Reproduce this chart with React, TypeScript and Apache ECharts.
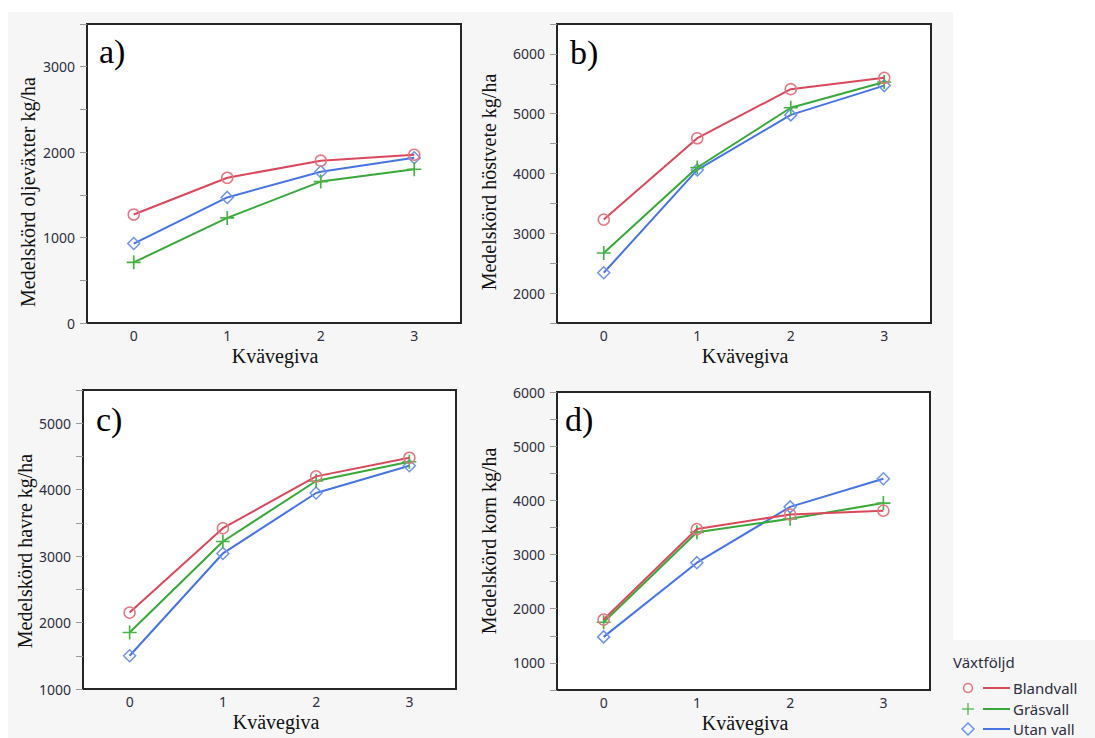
import React, { useEffect, useRef } from "react";
import * as echarts from "echarts";

const categories = ["0", "1", "2", "3"];
const seriesNames = ["Blandvall", "Gräsvall", "Utan vall"];

// a) oljeväxter
const blandA = [1270, 1700, 1900, 1970];
const grasA = [710, 1230, 1655, 1800];
const utanA = [930, 1470, 1770, 1935];
// b) höstvete
const blandB = [3230, 4590, 5410, 5600];
const grasB = [2670, 4100, 5100, 5530];
const utanB = [2340, 4060, 4980, 5470];
// c) havre
const blandC = [2150, 3420, 4200, 4480];
const grasC = [1850, 3220, 4130, 4420];
const utanC = [1500, 3040, 3950, 4360];
// d) korn
const blandD = [1800, 3470, 3740, 3810];
const grasD = [1750, 3410, 3660, 3950];
const utanD = [1480, 2850, 3880, 4400];

const yMins = [0, 1500, 1000, 500];
const yMaxs = [3500, 6500, 5500, 6000];
const yTitles = [
  "Medelskörd oljeväxter kg/ha",
  "Medelskörd höstvete kg/ha",
  "Medelskörd havre kg/ha",
  "Medelskörd korn kg/ha",
];
const panelLetters = ["a)", "b)", "c)", "d)"];
const xTitle = "Kvävegiva";
const legendTitle = "Växtföljd";

const panelData = [
  [blandA, grasA, utanA],
  [blandB, grasB, utanB],
  [blandC, grasC, utanC],
  [blandD, grasD, utanD],
];

const lineColors = ["#d9495b", "#38a838", "#4674e2"];
const markerColors = ["#e27883", "#45b445", "#6f92ee"];
const PLUS = "path://M4.4,0H5.6V4.4H10V5.6H5.6V10H4.4V5.6H0V4.4H4.4Z";
const symbols = ["circle", PLUS, "diamond"];
const symbolSizes = [11, 14, 12];

const grids = [
  { left: 87, top: 24, width: 374, height: 299 },
  { left: 557, top: 24, width: 374, height: 299 },
  { left: 83, top: 390, width: 373, height: 299 },
  { left: 557, top: 392, width: 373, height: 298 },
];

const yTitlePos = [
  [28, 192],
  [489, 182],
  [25, 551],
  [489, 541],
];
const xTitlePos = [
  [275, 356],
  [745, 356],
  [276, 722],
  [745, 723],
];
const letterPos = [
  [99, 51],
  [570, 52],
  [96, 419],
  [565, 419],
];

export default function App() {
  const ref = useRef<HTMLDivElement>(null);
  useEffect(() => {
    if (!ref.current) return;
    const chart = echarts.init(ref.current, null, { renderer: "svg" });

    const labelStyle = {
      fontFamily: "Noto Sans",
      fontSize: 14,
      color: "#2e2e3e",
    };

    const series: any[] = [];
    panelData.forEach((p, gi) => {
      p.forEach((vals, si) => {
        series.push({
          type: "line",
          name: seriesNames[si],
          xAxisIndex: gi,
          yAxisIndex: gi,
          data: vals,
          symbol: symbols[si],
          symbolSize: symbolSizes[si],
          showSymbol: true,
          lineStyle: { color: lineColors[si], width: 2 },
          itemStyle:
            si === 1
              ? { color: markerColors[si], borderWidth: 0 }
              : { color: "transparent", borderColor: markerColors[si], borderWidth: 1.5 },
          color: lineColors[si],
          emphasis: { disabled: true },
          z: 3 - si,
        });
      });
    });

    const graphics: any[] = [
      {
        type: "rect",
        z: -10,
        silent: true,
        shape: { x: 8, y: 12, width: 945, height: 726 },
        style: { fill: "#f6f6f6" },
      },
      {
        type: "rect",
        z: -10,
        silent: true,
        shape: { x: 953, y: 640, width: 142, height: 98 },
        style: { fill: "#f6f6f6" },
      },
    ];

    yTitles.forEach((t, i) => {
      graphics.push({
        type: "text",
        x: yTitlePos[i][0],
        y: yTitlePos[i][1],
        rotation: Math.PI / 2,
        style: {
          text: t,
          fontFamily: "Liberation Serif",
          fontSize: 20,
          fill: "#111",
          align: "center",
          verticalAlign: "middle",
        },
      });
      graphics.push({
        type: "text",
        x: xTitlePos[i][0],
        y: xTitlePos[i][1],
        style: {
          text: xTitle,
          fontFamily: "Liberation Serif",
          fontSize: 20,
          fill: "#111",
          align: "center",
          verticalAlign: "middle",
        },
      });
      graphics.push({
        type: "text",
        x: letterPos[i][0],
        y: letterPos[i][1],
        style: {
          text: panelLetters[i],
          fontFamily: "Liberation Serif",
          fontSize: 34,
          fill: "#000",
          align: "left",
          verticalAlign: "middle",
        },
      });
    });

    // legend
    graphics.push({
      type: "text",
      x: 953,
      y: 662,
      style: {
        text: legendTitle,
        fontFamily: "Noto Sans",
        fontSize: 15,
        fill: "#2e2e3e",
        align: "left",
        verticalAlign: "middle",
      },
    });
    const legY = [688, 709, 729];
    seriesNames.forEach((n, i) => {
      const y = legY[i];
      if (i === 0) {
        graphics.push({
          type: "circle",
          shape: { cx: 968, cy: y, r: 4.5 },
          style: { fill: "none", stroke: markerColors[0], lineWidth: 1.5 },
        });
      } else if (i === 1) {
        graphics.push({
          type: "line",
          shape: { x1: 962, y1: y, x2: 974, y2: y },
          style: { stroke: markerColors[1], lineWidth: 1.2 },
        });
        graphics.push({
          type: "line",
          shape: { x1: 968, y1: y - 6, x2: 968, y2: y + 6 },
          style: { stroke: markerColors[1], lineWidth: 1.2 },
        });
      } else {
        graphics.push({
          type: "polygon",
          shape: {
            points: [
              [968, y - 6],
              [974, y],
              [968, y + 6],
              [962, y],
            ],
          },
          style: { fill: "none", stroke: markerColors[2], lineWidth: 1.5 },
        });
      }
      graphics.push({
        type: "line",
        shape: { x1: 983, y1: y, x2: 1010, y2: y },
        style: { stroke: lineColors[i], lineWidth: 2 },
      });
      graphics.push({
        type: "text",
        x: 1013,
        y: y,
        style: {
          text: n,
          fontFamily: "Noto Sans",
          fontSize: 15,
          fill: "#2e2e3e",
          align: "left",
          verticalAlign: "middle",
        },
      });
    });

    chart.setOption({
      animation: false,
      backgroundColor: "#ffffff",
      grid: grids.map((g) => ({
        ...g,
        show: true,
        backgroundColor: "#ffffff",
        borderColor: "#262626",
        borderWidth: 2,
        containLabel: false,
      })),
      xAxis: grids.map((_, i) => ({
        type: "category",
        gridIndex: i,
        data: categories,
        boundaryGap: true,
        axisLine: { show: false },
        axisTick: { show: false },
        splitLine: { show: false },
        axisLabel: { ...labelStyle, margin: 5 },
      })),
      yAxis: grids.map((_, i) => ({
        type: "value",
        gridIndex: i,
        min: yMins[i],
        max: yMaxs[i],
        interval: 500,
        axisLine: { show: false },
        axisTick: { show: true, length: 7, lineStyle: { color: "#9a9a9a", width: 1 } },
        splitLine: { show: false },
        axisLabel: {
          ...labelStyle,
          margin: 12,
          showMaxLabel: true,
          formatter: (v: number) => (v % 1000 === 0 ? String(v) : ""),
        },
      })),
      series,
      graphic: { elements: graphics },
    });

    return () => chart.dispose();
  }, []);

  return (
    <div
      ref={ref}
      style={{ position: "fixed", left: 0, top: 0, width: 1095, height: 738 }}
    />
  );
}
